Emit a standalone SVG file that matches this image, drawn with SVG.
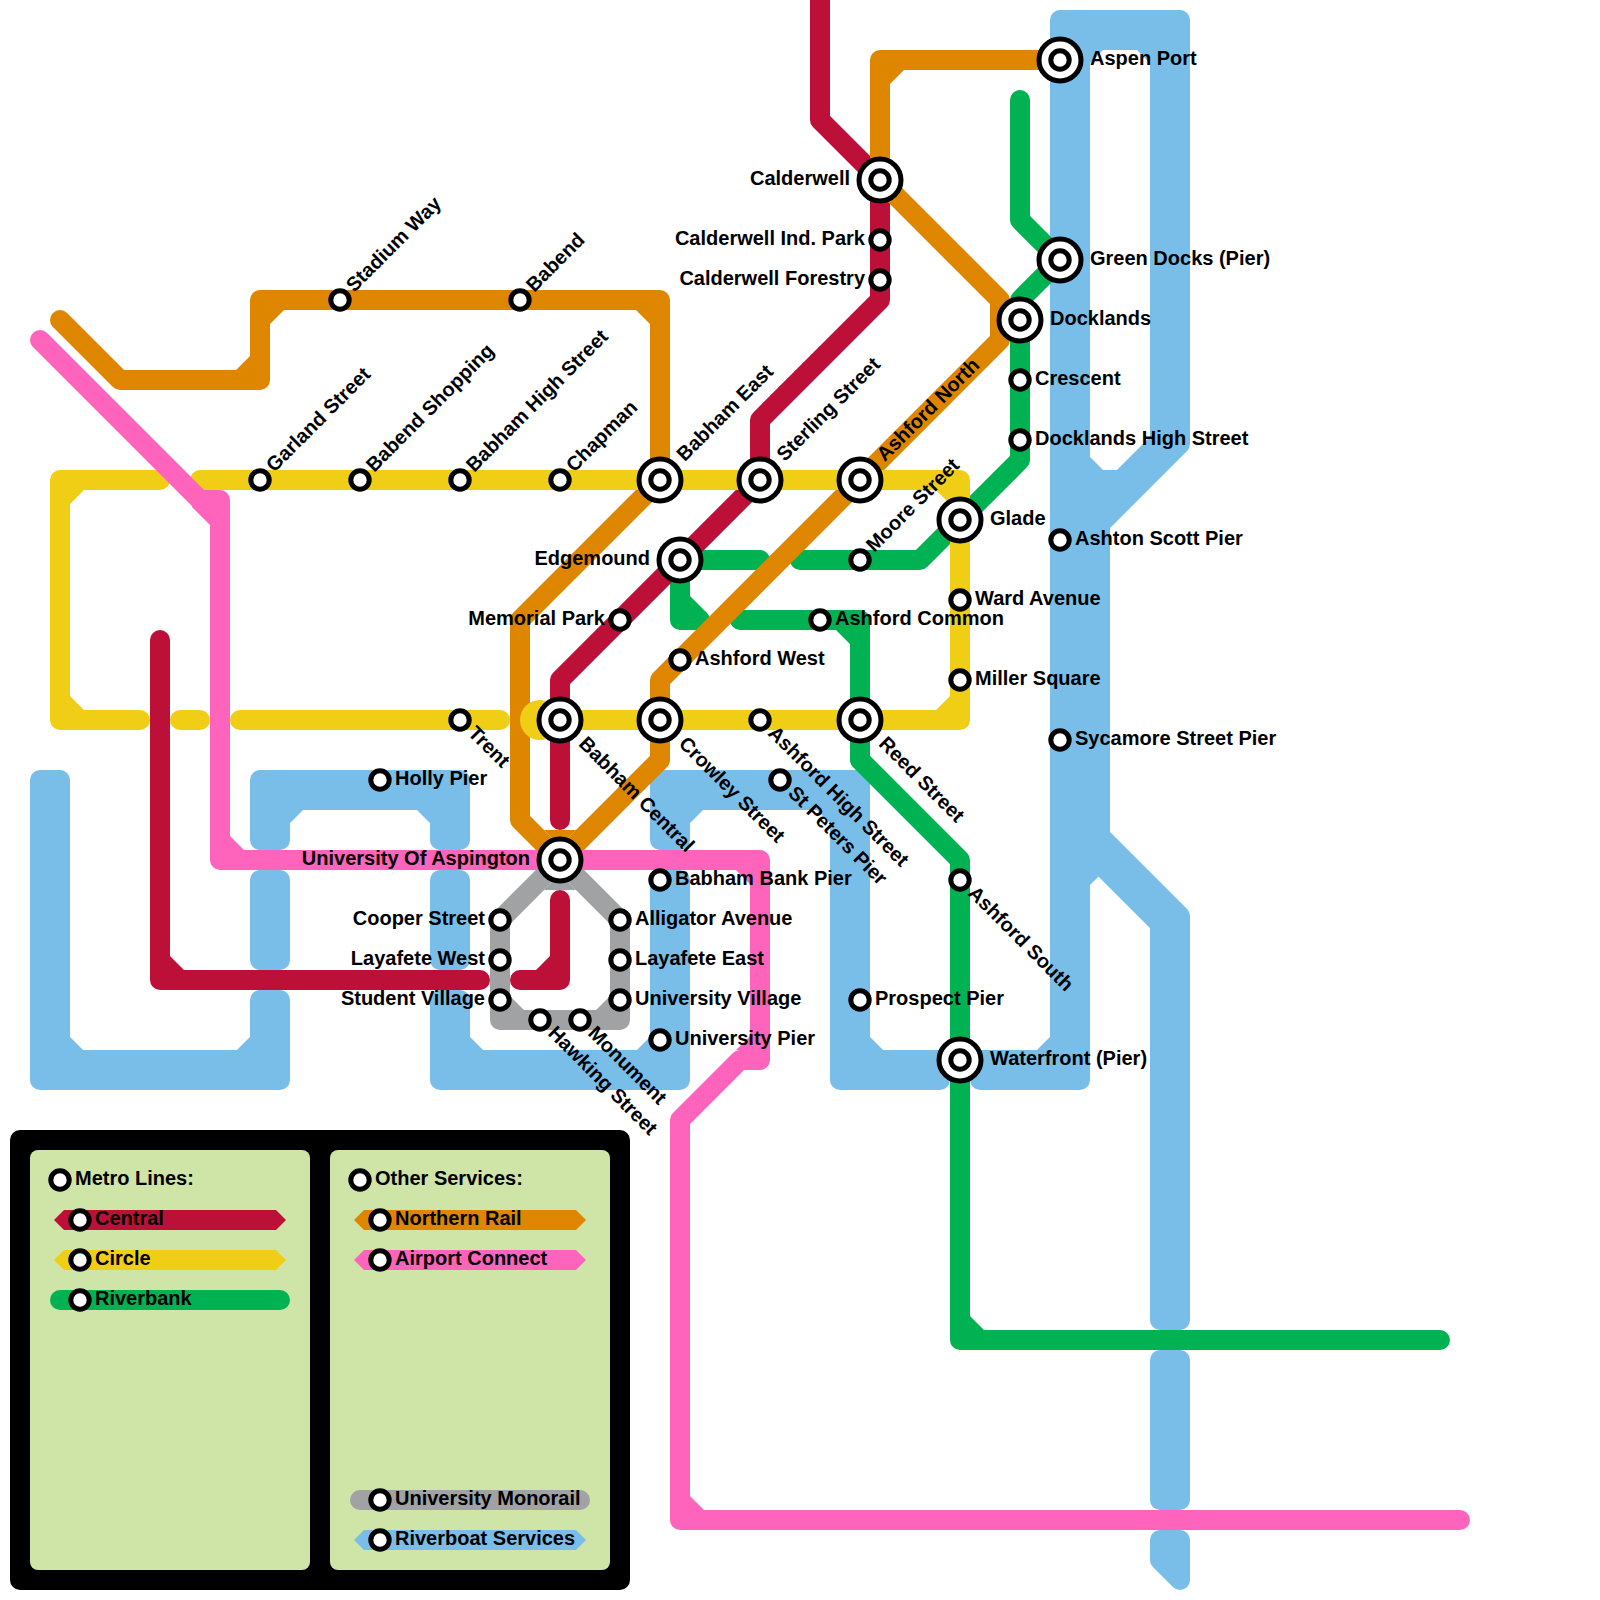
<svg xmlns="http://www.w3.org/2000/svg" width="1600" height="1600" viewBox="0 0 1600 1600">
<style>
text{font-family:"Liberation Sans",Arial,sans-serif;font-weight:bold;font-size:20px;fill:#000}
.e{text-anchor:end}
.ln{fill:none;stroke-width:20;stroke-linecap:round;stroke-linejoin:round}
.bl{fill:#79bde9;stroke:#79bde9;stroke-width:20;stroke-linejoin:round;fill-rule:evenodd}
.cr{stroke:#bd1038}.ye{stroke:#f0ce15}.gr{stroke:#00b251}.or{stroke:#df8600}.pi{stroke:#ff64bd}.gy{stroke:#a1a2a3}
.fcr{fill:#bd1038}.fye{fill:#f0ce15}.fgr{fill:#00b251}.for{fill:#df8600}.fpi{fill:#ff64bd}.fgy{fill:#a1a2a3}.fbl{fill:#79bde9}
.s{fill:#fff;stroke:#000;stroke-width:5}
.panel{fill:#cfe4a7}
</style>
<defs>
<circle id="sm" class="s" r="9.2"/>
<g id="lg"><circle class="s" r="21"/><circle class="s" r="9.2"/></g>
</defs>

<g id="connectors">
<g id="riverboat">
<path class="bl" d="M40 780H60V1041L79 1060H241L260 1041V1000H280V1080H40Z"/>
<path class="bl" d="M260 780H460V840H440V819L421 800H299L280 819V840H260Z"/>
<rect class="fbl" x="250" y="870" width="40" height="100" rx="10"/>
<rect class="fbl" x="430" y="870" width="40" height="100" rx="10"/>
<path class="bl" d="M440 1000H460V1041L479 1060H641L660 1041V880H680V1080H440Z"/>
<path class="bl" d="M660 780H860V1041L879 1060H940V1080H840V819L821 800H699L680 819V840H660Z"/>
<path class="bl" d="M980 1060H1041L1060 1041V20H1180V444L1100 524V836L1180 916V1320H1160V924L1098.500 862.500L1080 881V1080H980ZM1099 40H1141L1160 59V441L1121 480H1099L1080 461V59Z"/>
<rect class="fbl" x="1150" y="1350" width="40" height="160" rx="10"/>
<path class="bl" d="M1160 1540H1180V1580L1160 1560Z"/>
</g>
<g id="monorail">
<path class="ln gy" d="M500 1020V920L560 860L620 920V1020Z"/>
<path class="fgy" d="M544 890H576L560 874ZM510 996V1010H524ZM596 1010H610V996Z"/>
</g>
<g id="riverbank">
<path class="ln gr" d="M1020 100V220L1060 260L1020 300V460L920 560H800"/>
<path class="ln gr" d="M760 560H680V620H700"/>
<path class="fgr" d="M690 596L707 613L700 612H690Z"/>
<path class="ln gr" d="M740 620H860V760L960 860V1340H1440"/>
<path class="fgr" d="M836 630H850V644ZM970 1316V1330H984Z"/>
</g>
<g id="central">
<path class="ln cr" d="M820 0V120L880 180V300L760 420V480L560 680V820"/>
<path class="ln cr" d="M560 900V980H520"/>
<path class="ln cr" d="M160 640V980H480"/>
<path class="fcr" d="M170 956V970H184ZM536 970H550V956Z"/>
</g>
<g id="northern">
<path class="ln or" d="M60 320L120 380H260V300H660V480L520 620V820L560 860L660 760V680L1000 340V300L880 180V60H1060"/>
<path class="for" d="M270 324V310H284ZM236 370H250V356ZM636 310H650V324ZM890 84V70H904ZM544 830H576L560 846Z"/>
</g>
<g id="circle">
<path class="ln ye" d="M160 480H60V720H140"/>
<path class="ln ye" d="M200 720H180"/>
<path class="ln ye" d="M500 720H240"/>
<path class="ln ye" d="M200 480H960V720H560"/>
<circle class="fye" cx="540" cy="720" r="20"/>
<path class="fye" d="M70 490H84L70 504ZM70 710H84L70 696ZM950 710H936L950 696ZM950 490H936L950 504Z"/>
</g>
<g id="airport">
<path class="ln pi" d="M40 340L200 500H220V860H760V1060H740L680 1120V1520H1460"/>
<path class="fpi" d="M192 507L210 525V505H192ZM230 836V850H244ZM736 870H750V884ZM750 1036V1050H736ZM690 1496V1510H704Z"/>
</g>
</g>

<g id="legend">
<rect x="10" y="1130" width="620" height="460" rx="10"/>
<rect class="panel" x="30" y="1150" width="280" height="420" rx="8"/>
<rect class="panel" x="330" y="1150" width="280" height="420" rx="8"/>
<path class="fcr" d="M64 1210H276L286 1220L276 1230H64L54 1220Z"/>
<path class="fye" d="M64 1250H276L286 1260L276 1270H64L54 1260Z"/>
<rect class="fgr" x="50" y="1290" width="240" height="20" rx="10"/>
<path class="for" d="M364 1210H576L586 1220L576 1230H364L354 1220Z"/>
<path class="fpi" d="M364 1250H576L586 1260L576 1270H364L354 1260Z"/>
<rect class="fgy" x="350" y="1490" width="240" height="20" rx="10"/>
<path class="fbl" d="M364 1530H576L586 1540L576 1550H364L354 1540Z"/>
<g id="leg-metro" transform="translate(60,1180)"><use href="#sm"/><text x="15" y="5">Metro Lines:</text></g>
<g id="leg-central" transform="translate(80,1220)"><use href="#sm"/><text x="15" y="5">Central</text></g>
<g id="leg-circle" transform="translate(80,1260)"><use href="#sm"/><text x="15" y="5">Circle</text></g>
<g id="leg-riverbank" transform="translate(80,1300)"><use href="#sm"/><text x="15" y="5">Riverbank</text></g>
<g id="leg-other" transform="translate(360,1180)"><use href="#sm"/><text x="15" y="5">Other Services:</text></g>
<g id="leg-northern" transform="translate(380,1220)"><use href="#sm"/><text x="15" y="5">Northern Rail</text></g>
<g id="leg-airport" transform="translate(380,1260)"><use href="#sm"/><text x="15" y="5">Airport Connect</text></g>
<g id="leg-monorail" transform="translate(380,1500)"><use href="#sm"/><text x="15" y="5">University Monorail</text></g>
<g id="leg-riverboat" transform="translate(380,1540)"><use href="#sm"/><text x="15" y="5">Riverboat Services</text></g>
</g>

<g id="stations">
<g id="aspen-port" transform="translate(1060,60)"><use href="#lg"/><text x="30" y="5">Aspen Port</text></g>
<g id="green-docks" transform="translate(1060,260)"><use href="#lg"/><text x="30" y="5">Green Docks (Pier)</text></g>
<g id="docklands" transform="translate(1020,320)"><use href="#lg"/><text x="30" y="5">Docklands</text></g>
<g id="glade" transform="translate(960,520)"><use href="#lg"/><text x="30" y="5">Glade</text></g>
<g id="waterfront" transform="translate(960,1060)"><use href="#lg"/><text x="30" y="5">Waterfront (Pier)</text></g>
<g id="crescent" transform="translate(1020,380)"><use href="#sm"/><text x="15" y="5">Crescent</text></g>
<g id="docklands-high" transform="translate(1020,440)"><use href="#sm"/><text x="15" y="5">Docklands High Street</text></g>
<g id="ashton-scott" transform="translate(1060,540)"><use href="#sm"/><text x="15" y="5">Ashton Scott Pier</text></g>
<g id="ward-avenue" transform="translate(960,600)"><use href="#sm"/><text x="15" y="5">Ward Avenue</text></g>
<g id="miller-square" transform="translate(960,680)"><use href="#sm"/><text x="15" y="5">Miller Square</text></g>
<g id="sycamore" transform="translate(1060,740)"><use href="#sm"/><text x="15" y="5">Sycamore Street Pier</text></g>
<g id="ashford-common" transform="translate(820,620)"><use href="#sm"/><text x="15" y="5">Ashford Common</text></g>
<g id="ashford-west" transform="translate(680,660)"><use href="#sm"/><text x="15" y="5">Ashford West</text></g>
<g id="holly-pier" transform="translate(380,780)"><use href="#sm"/><text x="15" y="5">Holly Pier</text></g>
<g id="babham-bank" transform="translate(660,880)"><use href="#sm"/><text x="15" y="5">Babham Bank Pier</text></g>
<g id="alligator" transform="translate(620,920)"><use href="#sm"/><text x="15" y="5">Alligator Avenue</text></g>
<g id="layafete-east" transform="translate(620,960)"><use href="#sm"/><text x="15" y="5">Layafete East</text></g>
<g id="university-village" transform="translate(620,1000)"><use href="#sm"/><text x="15" y="5">University Village</text></g>
<g id="university-pier" transform="translate(660,1040)"><use href="#sm"/><text x="15" y="5">University Pier</text></g>
<g id="prospect-pier" transform="translate(860,1000)"><use href="#sm"/><text x="15" y="5">Prospect Pier</text></g>
<g id="calderwell" transform="translate(880,180)"><use href="#lg"/><text class="e" x="-30" y="5">Calderwell</text></g>
<g id="edgemound" transform="translate(680,560)"><use href="#lg"/><text class="e" x="-30" y="5">Edgemound</text></g>
<g id="university-of-aspington" transform="translate(560,860)"><use href="#lg"/><text class="e" x="-30" y="5">University Of Aspington</text></g>
<g id="calderwell-ind" transform="translate(880,240)"><use href="#sm"/><text class="e" x="-15" y="5">Calderwell Ind. Park</text></g>
<g id="calderwell-forestry" transform="translate(880,280)"><use href="#sm"/><text class="e" x="-15" y="5">Calderwell Forestry</text></g>
<g id="memorial-park" transform="translate(620,620)"><use href="#sm"/><text class="e" x="-15" y="5">Memorial Park</text></g>
<g id="cooper-street" transform="translate(500,920)"><use href="#sm"/><text class="e" x="-15" y="5">Cooper Street</text></g>
<g id="layafete-west" transform="translate(500,960)"><use href="#sm"/><text class="e" x="-15" y="5">Layafete West</text></g>
<g id="student-village" transform="translate(500,1000)"><use href="#sm"/><text class="e" x="-15" y="5">Student Village</text></g>
<g id="garland-street" transform="translate(260,480)"><use href="#sm"/><text transform="rotate(-45)" x="15" y="5">Garland Street</text></g>
<g id="babend-shopping" transform="translate(360,480)"><use href="#sm"/><text transform="rotate(-45)" x="15" y="5">Babend Shopping</text></g>
<g id="babham-high" transform="translate(460,480)"><use href="#sm"/><text transform="rotate(-45)" x="15" y="5">Babham High Street</text></g>
<g id="chapman" transform="translate(560,480)"><use href="#sm"/><text transform="rotate(-45)" x="15" y="5">Chapman</text></g>
<g id="stadium-way" transform="translate(340,300)"><use href="#sm"/><text transform="rotate(-45)" x="15" y="5">Stadium Way</text></g>
<g id="babend" transform="translate(520,300)"><use href="#sm"/><text transform="rotate(-45)" x="15" y="5">Babend</text></g>
<g id="moore-street" transform="translate(860,560)"><use href="#sm"/><text transform="rotate(-45)" x="15" y="5">Moore Street</text></g>
<g id="babham-east" transform="translate(660,480)"><use href="#lg"/><text transform="rotate(-45)" x="30" y="5">Babham East</text></g>
<g id="sterling-street" transform="translate(760,480)"><use href="#lg"/><text transform="rotate(-45)" x="30" y="5">Sterling Street</text></g>
<g id="ashford-north" transform="translate(860,480)"><use href="#lg"/><text transform="rotate(-45)" x="30" y="5">Ashford North</text></g>
<g id="trent" transform="translate(460,720)"><use href="#sm"/><text transform="rotate(45)" x="15" y="5">Trent</text></g>
<g id="ashford-high" transform="translate(760,720)"><use href="#sm"/><text transform="rotate(45)" x="15" y="5">Ashford High Street</text></g>
<g id="st-peters" transform="translate(780,780)"><use href="#sm"/><text transform="rotate(45)" x="15" y="5">St Peters Pier</text></g>
<g id="ashford-south" transform="translate(960,880)"><use href="#sm"/><text transform="rotate(45)" x="15" y="5">Ashford South</text></g>
<g id="hawking-street" transform="translate(540,1020)"><use href="#sm"/><text transform="rotate(45)" x="15" y="5">Hawking Street</text></g>
<g id="monument" transform="translate(580,1020)"><use href="#sm"/><text transform="rotate(45)" x="15" y="5">Monument</text></g>
<g id="babham-central" transform="translate(560,720)"><use href="#lg"/><text transform="rotate(45)" x="30" y="5">Babham Central</text></g>
<g id="crowley-street" transform="translate(660,720)"><use href="#lg"/><text transform="rotate(45)" x="30" y="5">Crowley Street</text></g>
<g id="reed-street" transform="translate(860,720)"><use href="#lg"/><text transform="rotate(45)" x="30" y="5">Reed Street</text></g>
</g>
</svg>
